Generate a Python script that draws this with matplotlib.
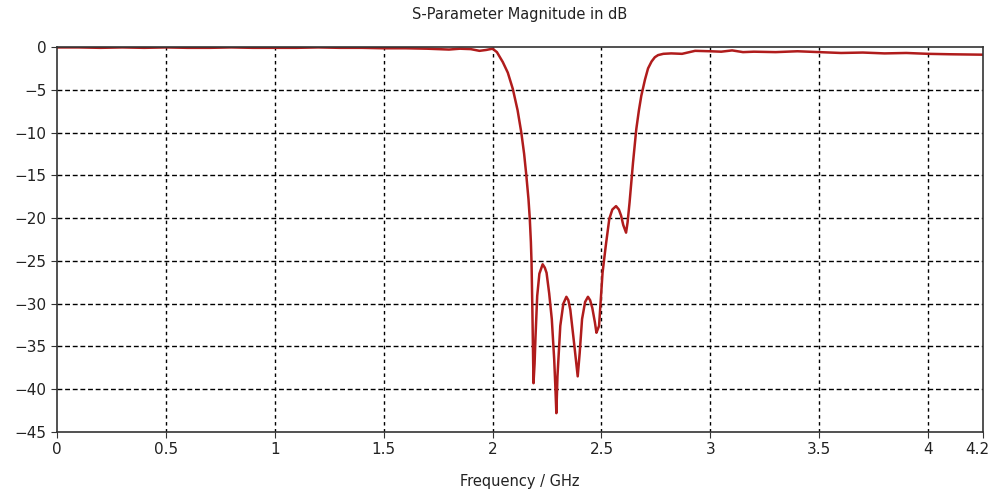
import matplotlib
matplotlib.use("Agg")
import matplotlib.pyplot as plt
import matplotlib.transforms as mtransforms

# frequency (GHz) and |S| (dB)
freq = [0.0, 0.1, 0.2, 0.3, 0.4, 0.5, 0.6, 0.7, 0.8, 0.9, 1.0, 1.1, 1.2, 1.3,
        1.4, 1.5, 1.6, 1.7, 1.8, 1.85, 1.9, 1.94, 1.97, 2.0, 2.02, 2.047,
        2.07, 2.093, 2.115, 2.132, 2.145, 2.155, 2.165, 2.171, 2.176, 2.179,
        2.183, 2.188, 2.193, 2.197, 2.205, 2.215, 2.23, 2.24, 2.248, 2.26,
        2.272, 2.283, 2.288, 2.293, 2.298, 2.311, 2.325, 2.339, 2.348, 2.357,
        2.376, 2.391, 2.40, 2.411, 2.425, 2.438, 2.448, 2.458, 2.47, 2.477,
        2.483, 2.489, 2.497, 2.505, 2.52, 2.536, 2.55, 2.567, 2.58, 2.59,
        2.60, 2.613, 2.62, 2.629, 2.645, 2.66, 2.672, 2.683, 2.70, 2.714,
        2.73, 2.745, 2.76, 2.784, 2.82, 2.87, 2.93, 3.0, 3.05, 3.1, 3.15,
        3.2, 3.3, 3.4, 3.5, 3.6, 3.7, 3.8, 3.9, 4.0, 4.1, 4.25]
s11_db = [-0.05, -0.05, -0.1, -0.05, -0.1, -0.05, -0.1, -0.1, -0.05, -0.1,
          -0.1, -0.1, -0.05, -0.1, -0.1, -0.15, -0.15, -0.2, -0.3, -0.2,
          -0.25, -0.45, -0.35, -0.2, -0.6, -1.76, -3.0, -4.9, -7.4, -10.0,
          -12.5, -15.0, -17.8, -20.1, -22.8, -25.2, -31.0, -39.3, -37.0,
          -34.0, -29.1, -26.5, -25.4, -25.8, -26.4, -28.8, -31.8, -36.5,
          -39.5, -42.8, -38.5, -32.6, -30.0, -29.2, -29.6, -30.7, -35.0,
          -38.5, -35.8, -31.8, -29.8, -29.2, -29.6, -30.5, -32.2, -33.4,
          -33.0, -32.6, -29.5, -26.4, -23.2, -20.1, -19.0, -18.6, -19.0,
          -19.7, -20.8, -21.7, -20.5, -18.2, -13.5, -9.6, -7.4, -5.7, -3.8,
          -2.5, -1.7, -1.2, -0.95, -0.8, -0.75, -0.8, -0.45, -0.5, -0.55,
          -0.4, -0.6, -0.55, -0.6, -0.5, -0.6, -0.7, -0.65, -0.75, -0.7,
          -0.8, -0.85, -0.9]

x_ticks = [0, 0.5, 1, 1.5, 2, 2.5, 3, 3.5, 4, 4.25]
x_labels = ["0", "0.5", "1", "1.5", "2", "2.5", "3", "3.5", "4", "4.2"]
y_ticks = [0, -5, -10, -15, -20, -25, -30, -35, -40, -45]

fig = plt.figure(figsize=(9.91, 4.92), dpi=100)
ax = fig.add_axes([0.0575, 0.122, 0.934, 0.7825])

ax.plot(freq, s11_db, color="#b01c1c", linewidth=1.8)

ax.set_xlim(0, 4.25)
ax.set_ylim(-45, 0)
ax.set_xticks(x_ticks)
ax.set_xticklabels(x_labels)
ax.set_yticks(y_ticks)
ax.tick_params(labelsize=11, length=4, color="#333333", labelcolor="#222222")

# last label sits at the frame edge; nudge it inside the figure
last = ax.get_xticklabels()[-1]
last.set_transform(last.get_transform() +
                   mtransforms.ScaledTranslation(-5 / 100, 0, fig.dpi_scale_trans))

for gx in x_ticks[1:-1]:
    ax.axvline(gx, color="black", linewidth=1, linestyle=(0, (2.5, 2.5)), zorder=0)
for gy in y_ticks[1:-1]:
    ax.axhline(gy, color="black", linewidth=1, linestyle=(0, (3.5, 2)), zorder=0)

for sp in ax.spines.values():
    sp.set_color("#333333")
    sp.set_linewidth(1.2)

ax.set_title("S-Parameter Magnitude in dB", fontsize=10.5, color="#222222", pad=20)
ax.set_xlabel("Frequency / GHz", fontsize=10.5, color="#222222", labelpad=12)

fig.savefig("out.png", dpi=100)
